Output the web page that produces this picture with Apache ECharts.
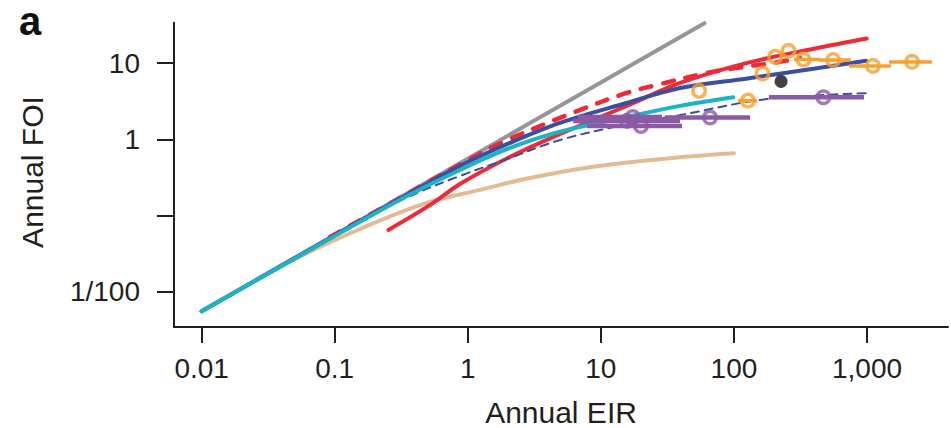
<!DOCTYPE html>
<html>
<head>
<meta charset="utf-8">
<script src="https://cdn.jsdelivr.net/npm/echarts@6/dist/echarts.min.js"></script>
<style>
  html, body { margin: 0; padding: 0; background: #ffffff; }
  #chart { width: 951px; height: 428px; }
</style>
</head>
<body>
<div id="chart"></div>
<script>
// Axis ticks (annual EIR on x, annual FOI on y, both logarithmic)
const eirTicks = [0.01, 0.1, 1, 10, 100, 1000];
const eirTickLabels = ['0.01', '0.1', '1', '10', '100', '1,000'];
const foiTicks = [0.01, 0.1, 1, 10];
const foiTickLabels = ['1/100', '', '1', '10'];
const eirRange = [0.0062, 4060];
const foiRange = [0.00347, 34.0];

// Model curves
const grayEIR = [0.01, 0.1, 1, 10, 60];
const grayFOI = [0.0056, 0.056, 0.56, 5.6, 33.5];

const tanEIR = [0.01, 0.027, 0.055, 0.155, 0.49, 1.24, 2.8, 8.8, 39, 100];
const tanFOI = [0.0056, 0.0150, 0.0292, 0.067, 0.147, 0.218, 0.308, 0.44, 0.583, 0.659];

const cyanEIR = [0.01, 0.155, 0.368, 0.873, 2.07, 4.93, 15.6, 39.4, 99];
const cyanFOI = [0.0056, 0.0834, 0.19, 0.398, 0.773, 1.265, 1.97, 2.76, 3.58];

const blueEIR = [0.01, 0.155, 0.368, 0.873, 2.07, 4.93, 15.6, 39.4, 126, 407, 984];
const blueFOI = [0.0056, 0.085, 0.199, 0.449, 0.9, 1.65, 3.01, 4.74, 6.32, 8.51, 10.8];

const blueDashEIR = [0.01, 0.155, 0.368, 0.873, 2.07, 4.93, 15.6, 39.4, 157, 498, 984];
const blueDashFOI = [0.0056, 0.0826, 0.181, 0.332, 0.571, 0.984, 1.574, 2.09, 3.3, 3.84, 4.04];

const redEIR = [0.253, 0.536, 0.873, 2.07, 4.93, 15.6, 39.4, 126, 407, 995];
const redFOI = [0.065, 0.143, 0.261, 0.59, 1.18, 2.75, 5.51, 10.1, 15.6, 21.1];

const redDashEIR = [0.0923, 0.219, 0.52, 0.873, 1.84, 6.4, 15.6, 26.3, 62.5, 111, 198, 314];
const redDashFOI = [0.0526, 0.122, 0.285, 0.47, 0.927, 2.3, 4.07, 5.19, 7.45, 8.81, 10.1, 11.7];

// Field estimates (null = no EIR range shown)
const orangeEIR = [54.7, 127.6, 164, 204, 257, 333, 556, 1109, 2179];
const orangeFOI = [4.33, 3.23, 7.34, 12.1, 14.5, 11.2, 11.0, 9.21, 10.4];
const orangeLo  = [null, 107.4, null, null, null, 283, 436, 732, 1462];
const orangeHi  = [null, 149, null, null, null, 444, 757, 1513, 3076];

const purpleEIR = [15.7, 17.4, 20.0, 66.1, 470];
const purpleFOI = [1.75, 1.97, 1.50, 1.94, 3.58];
const purpleLo  = [6.18, 6.73, 7.87, 30.3, 183];
const purpleHi  = [39.3, 28.8, 40.7, 132, 950];

const blackEIR = [226];
const blackFOI = [5.77];

const INK = '#231f20';
const FONT = '"Liberation Sans", Arial, Helvetica, sans-serif';
const lg = Math.log10;

function pairs(xs, ys) {
  return xs.map((x, i) => [lg(x), lg(ys[i])]);
}

function curve(name, xs, ys, color, width, type, z) {
  return {
    name, type: 'line', data: pairs(xs, ys), smooth: 0.35,
    showSymbol: false, silent: true, z,
    lineStyle: { color, width, type: type || 'solid', cap: 'round' }
  };
}

function rangeBars(name, lo, hi, ys, color, width, z) {
  const rows = [];
  lo.forEach((l, i) => { if (l != null) rows.push([lg(l), lg(hi[i]), lg(ys[i])]); });
  return {
    name, type: 'custom', data: rows, z, silent: true,
    encode: { x: [0, 1], y: 2 },
    renderItem(params, api) {
      const a = api.coord([api.value(0), api.value(2)]);
      const b = api.coord([api.value(1), api.value(2)]);
      return {
        type: 'line',
        shape: { x1: a[0], y1: a[1], x2: b[0], y2: b[1] },
        style: { stroke: color, lineWidth: width }
      };
    }
  };
}

function points(name, xs, ys, color, size, filled, z) {
  return {
    name, type: 'scatter', data: pairs(xs, ys), symbol: 'circle', symbolSize: size,
    z, silent: true,
    itemStyle: filled
      ? { color: color }
      : { color: 'rgba(0,0,0,0)', borderColor: color, borderWidth: 3.5 }
  };
}

function tickLabel(ticks, labels) {
  return v => {
    const i = ticks.findIndex(t => Math.abs(lg(t) - v) < 1e-6);
    return i < 0 ? '' : labels[i];
  };
}

const chart = echarts.init(document.getElementById('chart'), null, { renderer: 'svg' });

chart.setOption({
  animation: false,
  backgroundColor: '#ffffff',
  grid: { left: 174, right: 3, top: 22.7, bottom: 101 },
  xAxis: {
    type: 'value',
    min: lg(eirRange[0]), max: lg(eirRange[1]),
    splitLine: { show: false },
    axisLine: { show: true, onZero: false, lineStyle: { color: INK, width: 2 } },
    axisTick: { show: true, length: 16, lineStyle: { color: INK, width: 2 },
      customValues: eirTicks.map(lg) },
    axisLabel: {
      customValues: eirTicks.map(lg),
      margin: 27, color: INK, fontSize: 28, fontFamily: FONT,
      formatter: tickLabel(eirTicks, eirTickLabels)
    }
  },
  yAxis: {
    type: 'value',
    min: lg(foiRange[0]), max: lg(foiRange[1]),
    splitLine: { show: false },
    axisLine: { show: true, onZero: false, lineStyle: { color: INK, width: 2 } },
    axisTick: { show: true, length: 17, lineStyle: { color: INK, width: 2 },
      customValues: foiTicks.map(lg) },
    axisLabel: {
      customValues: foiTicks.map(lg),
      margin: 34, color: INK, fontSize: 28, fontFamily: FONT,
      formatter: tickLabel(foiTicks, foiTickLabels)
    }
  },
  graphic: [
    { type: 'text', x: 19, y: 21, style: { text: 'a', font: 'bold 40px ' + FONT, fill: '#111',
        textAlign: 'left', textVerticalAlign: 'middle' } },
    { type: 'text', x: 561, y: 412, style: { text: 'Annual EIR', font: '30px ' + FONT, fill: INK,
        textAlign: 'center', textVerticalAlign: 'middle' } },
    { type: 'text', x: 32, y: 172, rotation: Math.PI / 2,
      style: { text: 'Annual FOI', font: '30px ' + FONT, fill: INK,
        textAlign: 'center', textVerticalAlign: 'middle' } }
  ],
  series: [
    curve('gray', grayEIR, grayFOI, '#969696', 4, 'solid', 2),
    curve('tan', tanEIR, tanFOI, '#e3bb92', 4, 'solid', 3),
    curve('red', redEIR, redFOI, '#ee2a36', 4, 'solid', 4),
    curve('redDash', redDashEIR, redDashFOI, '#ee2a36', 4.5, [11, 12], 5),
    curve('blueDash', blueDashEIR, blueDashFOI, '#3b4ea2', 2, [8, 6], 6),
    curve('blue', blueEIR, blueFOI, '#3b4ea2', 4, 'solid', 7),
    curve('cyan', cyanEIR, cyanFOI, '#1bb3c7', 4, 'solid', 8),
    rangeBars('purpleRange', purpleLo, purpleHi, purpleFOI, '#8c5aa5', 4.5, 9),
    points('purple', purpleEIR, purpleFOI, '#8c5aa5', 12.5, false, 10),
    rangeBars('orangeRange', orangeLo, orangeHi, orangeFOI, '#f6a02f', 3.5, 11),
    points('orange', orangeEIR, orangeFOI, '#f6a02f', 12.5, false, 12),
    points('black', blackEIR, blackFOI, '#141414', 13, true, 13)
  ]
});
</script>
</body>
</html>
